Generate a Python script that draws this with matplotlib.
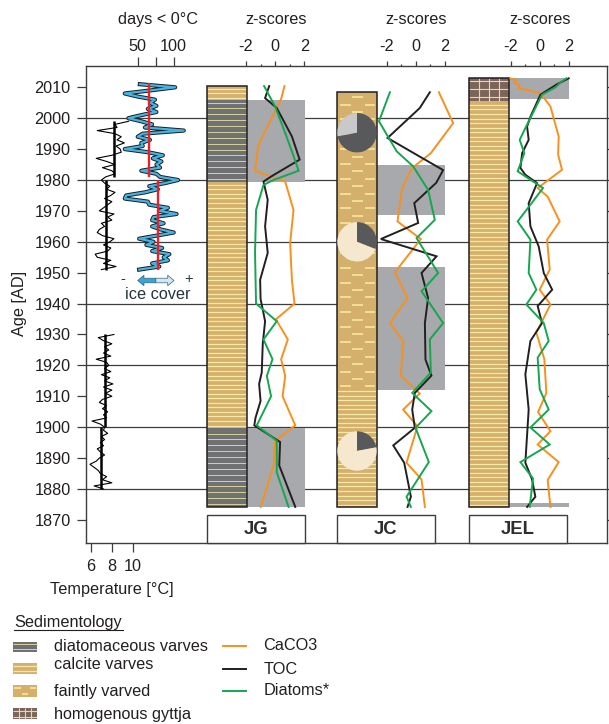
import numpy as np
import matplotlib
matplotlib.use("Agg")
import matplotlib.pyplot as plt
import matplotlib.patheffects as pe
from matplotlib.patches import Rectangle, FancyArrowPatch

plt.rcParams['font.family'] = ['Liberation Sans', 'DejaVu Sans']
plt.rcParams['font.size'] = 11.7
TXT = '#231f20'
FRAME = '#3d3d3d'

# ---------------- data ----------------
temp_years_old = list(range(1880, 1931))
temp_old = [7.2, 6.3, 8.0, 7.1, 7.5, 6.9, 6.7, 6.3, 5.9, 6.5,
            6.8, 7.3, 6.9, 6.6, 7.2, 6.9, 7.3, 7.0, 7.6, 7.2,
            7.3, 6.9, 6.1, 7.5, 7.2, 7.6, 7.1, 7.5, 6.8, 7.1,
            8.0, 7.4, 8.0, 7.2, 8.1, 7.3, 7.8, 7.0, 7.9, 7.3,
            7.7, 7.5, 6.5, 7.9, 7.2, 7.7, 7.3, 8.0, 7.2, 6.7, 8.2]
temp_years_new = list(range(1951, 2000))
temp_new = [7.0, 8.4, 7.2, 7.9, 6.6, 6.4, 7.6, 7.9, 7.2, 7.8,
            8.2, 7.1, 6.6, 6.8, 7.3, 7.0, 8.0, 7.6, 8.2, 6.8,
            7.2, 7.6, 8.0, 7.3, 7.9, 8.3, 7.5, 7.8, 7.3, 7.0,
            7.4, 8.3, 8.0, 7.1, 8.3, 7.5, 6.5, 8.0, 8.9, 8.8,
            8.4, 9.2, 8.5, 8.9, 8.3, 6.6, 8.5, 8.3, 9.6]
tmean_start = [1981, 1951, 1900, 1880]
tmean_end = [1999, 1980, 1930, 1900]
tmean_val = [8.2, 7.41, 7.37, 6.93]

ice_years = list(range(1951, 2012))
ice_days = [52, 80, 70, 92, 86, 94, 70, 84, 62, 72,
            52, 76, 100, 82, 70, 86, 70, 72, 104, 80,
            92, 66, 64, 32, 34, 60, 78, 66, 88, 106,
            81, 76, 55, 81, 76, 83, 71, 85, 64, 32,
            57, 55, 67, 50, 57, 114, 60, 70, 55, 37,
            55, 76, 64, 76, 67, 74, 50, 32, 68, 102, 53]
ice_mean_start = [1981, 1951]
ice_mean_end = [2011.3, 1980]
ice_mean_val = [65.7, 77.8]

grid_years = [1880, 1900, 1920, 1940, 1960, 1980, 2000]
sites = ['JG', 'JC', 'JEL']

# sediment units: (top year, bottom year, type)
jg_units = [(2010.4, 2005.9, 'calcite'), (2005.9, 1979.4, 'diatom'),
            (1979.4, 1899.8, 'calcite'), (1899.8, 1874.2, 'diatom')]
jc_units = [(2008.4, 1912.0, 'faint'), (1912.0, 1874.2, 'calcite')]
jel_units = [(2012.9, 2005.7, 'gyttja'), (2005.7, 1874.2, 'calcite')]
# grey shaded intervals (top, bottom)
jg_boxes = [(2005.9, 1979.5), (1899.8, 1874.2)]
jc_boxes = [(1984.9, 1968.7), (1951.9, 1912.0)]
jel_boxes = [(2012.9, 2006.1), (1875.4, 1874.2)]

# z-scores (year, value)
jg_caco3_y = [2010.4, 2006.2, 1991.4, 1983.0, 1979.5, 1970.3, 1959.6, 1947.7, 1940.0, 1934.9,
              1928.4, 1922.0, 1916.6, 1910.0, 1900.6, 1895.6, 1887.5, 1874.2]
jg_caco3 = [0.64, 0.41, -1.15, -1.38, 0.69, 1.26, 1.03, 1.15, 1.33, 0.05,
            0.87, 0.41, 0.69, 0.51, 1.38, 0.0, -0.11, -0.99]
jg_toc_y = [2010.4, 2006.5, 2003.3, 1994.1, 1986.6, 1981.4, 1979.5, 1973.6, 1965.0, 1956.4,
            1947.7, 1941.5, 1934.3, 1927.0, 1917.7, 1914.0, 1908.5, 1903.0, 1900.6, 1895.2,
            1887.6, 1874.2]
jg_toc = [-0.41, -0.69, 0.11, 1.15, 1.68, -0.18, -0.80, -0.51, -0.69, -0.51,
          -1.03, -1.0, -0.69, -0.85, -0.92, -1.1, -1.0, -1.35, -1.43, 0.34,
          0.28, 1.38]
jg_dia_y = [2010.4, 2003.8, 1995.2, 1988.6, 1983.0, 1980.0, 1978.4, 1970.3, 1956.4, 1940.0,
            1934.3, 1928.4, 1922.0, 1916.6, 1910.0, 1900.6, 1895.6, 1885.4, 1874.2]
jg_dia = [-0.76, 0.0, 0.69, 1.2, 1.61, -0.11, -0.8, -1.31, -1.38, -1.31,
          0.11, -0.8, -0.18, -0.57, -0.28, -1.26, 0.11, 0.11, 0.92]

jc_caco3_y = [2008.4, 1998.4, 1988.7, 1983.9, 1977.4, 1966.6, 1960.9, 1950.1, 1941.8, 1933.7,
              1927.9, 1916.7, 1910.9, 1905.7, 1900.3, 1888.5, 1883.1, 1874.2]
jc_caco3 = [1.58, 2.56, 1.03, -0.25, -0.94, -1.26, 0.34, -1.44, -0.57, -1.78,
            -0.87, -1.03, 0.27, -0.87, 0.11, -0.64, 0.39, 0.62]
jc_toc_y = [2008.4, 2003.3, 1993.6, 1983.2, 1979.1, 1972.5, 1966.1, 1960.9, 1955.3, 1949.9,
            1941.8, 1933.7, 1921.9, 1916.7, 1911.1, 1905.7, 1899.8, 1894.1, 1888.5, 1877.5,
            1874.2]
jc_toc = [0.96, 0.27, -1.94, 1.87, 1.4, -0.11, 0.16, -2.4, 1.42, 0.39,
          0.84, 0.62, 0.66, 1.07, -0.07, -0.25, -0.07, -1.55, -0.8, -0.34,
          -0.57]
jc_dia_y = [2008.4, 1999.0, 1989.3, 1984.4, 1976.8, 1967.1, 1961.2, 1949.9, 1944.0, 1933.7,
            1928.4, 1917.7, 1911.1, 1905.2, 1899.8, 1888.7, 1877.5, 1874.2]
jc_dia = [-1.78, -2.53, -1.32, -0.18, 0.84, 1.3, 0.05, 1.53, 0.39, 1.87,
          0.96, 1.03, -0.25, 1.07, -0.02, 0.89, -0.64, -0.34]

jel_caco3_y = [2012.9, 2012.3, 2011.5, 2010.6, 2009.7, 2009.0, 2008.1, 2003.8, 1994.1, 1988.2,
               1983.3, 1977.4, 1974.6, 1966.6, 1960.7, 1951.0, 1944.5, 1939.7, 1930.6, 1922.0,
               1911.1, 1904.9, 1898.7, 1894.4, 1888.7, 1882.9, 1874.2]
jel_caco3 = [-2.02, -1.6, -1.75, -1.4, -1.45, -0.8, 0.05, 0.74, 1.31, 1.27,
             1.54, -0.14, 0.55, 1.38, 0.51, 0.69, 0.0, 0.74, -0.23, 0.32,
             0.46, -0.11, 0.74, -0.14, 1.31, 0.55, 0.74]
jel_toc_y = [2012.9, 2011.0, 2009.3, 2007.6, 2000.5, 1997.3, 1993.0, 1988.7, 1983.9, 1981.7,
             1979.0, 1972.5, 1965.0, 1958.5, 1949.9, 1944.5, 1939.2, 1933.7, 1927.9, 1917.1,
             1905.7, 1888.5, 1883.1, 1877.5, 1874.2]
jel_toc = [2.0, 1.2, 0.62, 0.05, -0.64, -0.87, -0.76, -1.21, -1.33, -0.99,
           -0.18, -0.76, -0.64, -0.07, 0.28, 0.86, -0.14, 0.16, -0.64, -0.99,
           -0.76, -0.99, -0.53, -0.3, -0.87]
jel_dia_y = [2012.9, 2011.8, 2010.0, 2007.6, 2001.1, 1996.8, 1993.0, 1988.7, 1982.8, 1977.4,
             1972.0, 1966.6, 1960.7, 1949.9, 1944.5, 1939.7, 1933.7, 1927.9, 1922.5, 1912.3,
             1905.7, 1899.9, 1894.4, 1888.7, 1883.4, 1874.2]
jel_dia = [1.84, 1.5, 1.08, 0.16, -0.53, -0.99, -1.38, -1.06, -1.52, 0.23,
           -0.64, -1.52, -0.64, -0.76, -0.23, -0.92, 0.28, 0.62, -0.14, 0.0,
           0.62, -0.64, 0.69, -1.33, -0.46, -0.69]

# JC pie charts: centre year, fraction of first wedge
pie_years = [1995.3, 1960.0, 1892.3]
pie_first = [0.28, 0.31, 0.22]

legend_sed = ['diatomaceous varves', 'calcite varves', 'faintly varved', 'homogenous gyttja']
legend_lines = ['CaCO3', 'TOC', 'Diatoms*']

# ---------------- layout ----------------
W, H, DPI = 609, 724, 100
fig = plt.figure(figsize=(W / DPI, H / DPI), dpi=DPI)
AX_L, AX_R, AX_T, AX_B = 86, 607, 66, 543


def year_at(ypx):
    return 2010 - (ypx - 87.3) / 3.09


Y_TOP, Y_BOT = year_at(AX_T), year_at(AX_B)
RECT = [AX_L / W, 1 - AX_B / H, (AX_R - AX_L) / W, (AX_B - AX_T) / H]
AXH = AX_B - AX_T


def frac_y(ypx):
    return (AX_B - ypx) / AXH


C_ORANGE, C_BLACK, C_GREEN = '#f7901e', '#231f20', '#16a650'
C_TAN, C_DIA, C_GYT = '#d5b06c', '#707173', '#7b655a'
C_BOX = '#a7a9ac'
series_colors = [C_ORANGE, C_BLACK, C_GREEN]


def sediment(ax, x0, x1, a, b, kind, step, z=2.0):
    lo, hi = min(a, b), max(a, b)
    fc = {'diatom': C_DIA, 'calcite': C_TAN, 'faint': C_TAN, 'gyttja': C_GYT}[kind]
    ax.add_patch(Rectangle((x0, lo), x1 - x0, hi - lo, facecolor=fc,
                           edgecolor='none', zorder=z))
    w = x1 - x0
    if kind == 'calcite':
        ys = np.arange(lo + step / 2, hi, step)
        ax.hlines(ys, x0, x1, colors='#f6e9a6', lw=0.9, zorder=z + 0.1)
    elif kind == 'diatom':
        ys = np.arange(lo + step / 2, hi, step)
        ax.hlines(ys, x0, x1, colors='#d8d19b', lw=0.7, zorder=z + 0.1)
    elif kind == 'faint':
        ys = np.arange(lo + step / 2, hi, step)
        ya, yb = ys[0::2], ys[1::2]
        ax.hlines(ya, x0 + 0.07 * w, x0 + 0.34 * w, colors='#f5e394', lw=1.3, zorder=z + 0.1)
        ax.hlines(ya, x0 + 0.70 * w, x0 + 0.95 * w, colors='#f5e394', lw=1.3, zorder=z + 0.1)
        ax.hlines(yb, x0 + 0.38 * w, x0 + 0.65 * w, colors='#f5e394', lw=1.3, zorder=z + 0.1)
    elif kind == 'gyttja':
        ax.vlines([x0 + w * f for f in (0.25, 0.5, 0.75)], lo, hi, colors='#e8d9a0', lw=0.8, zorder=z + 0.1)
        ys = np.arange(lo + step / 2, hi, step)
        ax.hlines(ys, x0, x1, colors='#e8d9a0', lw=0.8, zorder=z + 0.1)


def overlay(px_a, v_a, px_b, v_b, z):
    ax = fig.add_axes(RECT, zorder=z)
    s = (v_b - v_a) / (px_b - px_a)
    ax.set_xlim(v_a + (AX_L - px_a) * s, v_a + (AX_R - px_a) * s)
    ax.set_ylim(Y_BOT, Y_TOP)
    ax.patch.set_alpha(0)
    for sp in ax.spines.values():
        sp.set_visible(False)
    ax.tick_params(left=False, labelleft=False, bottom=False, labelbottom=False)
    ax.set_yticks([])
    return ax, s


# main frame
ax0 = fig.add_axes(RECT, zorder=0)
ax0.set_xlim(0, 1)
ax0.set_ylim(Y_BOT, Y_TOP)
ax0.set_xticks([])
ax0.set_yticks(range(1870, 2011, 10))
ax0.tick_params(axis='y', direction='out', length=6.3, width=0.9, pad=4.7,
                colors=FRAME, labelcolor=TXT, labelsize=11.7, right=True)
for sp in ax0.spines.values():
    sp.set_color(FRAME)
    sp.set_linewidth(1.0)
for gy in grid_years:
    ax0.axhline(gy, color=FRAME, lw=0.9, zorder=0.5)
fig.text(19.5 / W, 1 - 303 / H, 'Age [AD]', rotation=90, ha='center', va='center',
         color=TXT, fontsize=11.7)

# temperature panel
ax_t, _ = overlay(91, 6, 132.7, 10, 1)
ax_t.plot(temp_old, temp_years_old, color='k', lw=0.8, zorder=3)
ax_t.plot(temp_new, temp_years_new, color='k', lw=0.8, zorder=3)
ax_t.vlines(tmean_val, tmean_start, tmean_end, colors='k', lw=1.8, zorder=4)
ax_t.set_xticks([6, 8, 10])
ax_t.set_xticklabels(['6', '8', '10'])
ax_t.tick_params(axis='x', bottom=True, labelbottom=True, direction='out', length=6.5,
                 width=0.9, pad=5.0, colors=FRAME, labelcolor=TXT, labelsize=11.7)
ax_t.text(8.0, frac_y(589.5), 'Temperature [°C]', transform=ax_t.get_xaxis_transform(),
          ha='center', va='center', color=TXT, fontsize=11.7, clip_on=False)

# ice cover panel
ax_d, _ = overlay(137.7, 50, 173.7, 100, 1.1)
ax_d.plot(ice_days, ice_years, color='#45b3e3', lw=1.6, zorder=3, solid_joinstyle='round',
          path_effects=[pe.Stroke(linewidth=3.0, foreground='#1d1d1d'), pe.Normal()])
ax_d.vlines(ice_mean_val, ice_mean_start, ice_mean_end, colors='#e8202a', lw=1.7, zorder=4)
ax_d.xaxis.set_ticks_position('top')
ax_d.set_xticks([50, 75, 100])
ax_d.set_xticklabels(['50', '', '100'])
ax_d.tick_params(axis='x', top=True, labeltop=True, direction='out', length=6.5, width=0.9,
                 pad=1.9, colors=FRAME, labelcolor=TXT, labelsize=11.7)
ax_d.text(78, frac_y(19.3), 'days < 0°C', transform=ax_d.get_xaxis_transform(),
          ha='center', va='center', color=TXT, fontsize=11.7, clip_on=False)
arr_y = year_at(280.5)
for x_end, col in ((50, '#2fa8de'), (100.4, '#cde9f6')):
    ax_d.add_patch(FancyArrowPatch((75.2, arr_y), (x_end, arr_y),
                                   arrowstyle='simple,head_length=0.45,head_width=0.75,tail_width=0.33',
                                   mutation_scale=10, shrinkA=0, shrinkB=0, facecolor=col,
                                   edgecolor='#3b5f74', lw=0.5, zorder=5))
ax_d.text(29, year_at(279.0), '-', ha='center', va='center', color='#24343c', fontsize=10.5, zorder=5)
ax_d.text(120, year_at(279.0), '+', ha='center', va='center', color='#24343c', fontsize=10.5, zorder=5)
ax_d.text(78.5, year_at(294.5), 'ice cover', ha='center', va='center', color='#24343c',
          fontsize=11.7, zorder=5)

# z-score panels
panels = [
    dict(name='JG', ax=(246, 304.3), col=(207.3, 246.7), box=(246.7, 305), lab=(207.3, 305),
         units=jg_units, boxes=jg_boxes,
         series=[(jg_caco3, jg_caco3_y), (jg_toc, jg_toc_y), (jg_dia, jg_dia_y)]),
    dict(name='JC', ax=(386.7, 445), col=(337.3, 376.7), box=(376.7, 445), lab=(337.3, 434.7),
         units=jc_units, boxes=jc_boxes,
         series=[(jc_caco3, jc_caco3_y), (jc_toc, jc_toc_y), (jc_dia, jc_dia_y)]),
    dict(name='JEL', ax=(510.7, 568.7), col=(469.3, 508.7), box=(508.7, 569), lab=(469.3, 566.7),
         units=jel_units, boxes=jel_boxes,
         series=[(jel_caco3, jel_caco3_y), (jel_toc, jel_toc_y), (jel_dia, jel_dia_y)]),
]

steps = {'calcite': 1.47, 'diatom': 1.9, 'faint': 2.4, 'gyttja': 2.6}
axes_z = {}
for i, p in enumerate(panels):
    pa, pb = p['ax']
    ax, s = overlay(pa, -2, pb, 2, 2 + i * 0.1)
    axes_z[p['name']] = ax
    to_z = lambda px, pa=pa, s=s: -2 + (px - pa) * s
    c0, c1 = to_z(p['col'][0]), to_z(p['col'][1])
    b0, b1 = to_z(p['box'][0]), to_z(p['box'][1])
    for top, bot in p['boxes']:
        ax.add_patch(Rectangle((b0, bot), b1 - b0, top - bot, facecolor=C_BOX,
                               edgecolor='none', zorder=1))
    for top, bot, kind in p['units']:
        sediment(ax, c0, c1, top, bot, kind, steps[kind])
    ctop = p['units'][0][0]
    cbot = p['units'][-1][1]
    ax.add_patch(Rectangle((c0, cbot), c1 - c0, ctop - cbot, facecolor='none',
                           edgecolor=TXT, lw=1.1, zorder=2.5))
    for (vals, yrs), colr in zip(p['series'], series_colors):
        ax.plot(vals, yrs, color=colr, lw=1.4, zorder=3, solid_joinstyle='miter')
    ax.xaxis.set_ticks_position('top')
    ax.set_xticks([-2, 0, 2])
    ax.set_xticklabels(['-2', '0', '2'])
    ax.set_xticks([-1, 1], minor=True)
    ax.tick_params(axis='x', which='major', top=True, labeltop=True, direction='out',
                   length=3.4, width=0.9, pad=5.0, colors=FRAME, labelcolor=TXT, labelsize=11.7)
    ax.tick_params(axis='x', which='minor', top=True, direction='out', length=1.7,
                   width=0.9, colors=FRAME)
    ax.text(0.05, frac_y(19.3), 'z-scores', transform=ax.get_xaxis_transform(),
            ha='center', va='center', color=TXT, fontsize=11.7, clip_on=False)
    l0, l1 = to_z(p['lab'][0]), to_z(p['lab'][1])
    ax.add_patch(Rectangle((l0, 0), l1 - l0, frac_y(515), transform=ax.get_xaxis_transform(),
                           facecolor='white', edgecolor=FRAME, lw=1.0, zorder=3, clip_on=False))
    ax.text((l0 + l1) / 2, frac_y(529.5), p['name'], transform=ax.get_xaxis_transform(),
            ha='center', va='center', fontsize=13.3, fontweight='bold', color='#2e2e2e', zorder=4)
    if p['name'] == 'JC':
        zc = (c0 + c1) / 2
        rz = (c1 - c0) / 2
        ry = ((p['col'][1] - p['col'][0]) / 2) / 3.09
        for k, (py, pf) in enumerate(zip(pie_years, pie_first)):
            pax = ax.inset_axes([zc - rz, py - ry, 2 * rz, 2 * ry], transform=ax.transData)
            if k == 0:
                pax.pie([pf, 1 - pf], colors=['#c9c9c9', '#58595b'], startangle=90,
                        counterclock=True, wedgeprops=dict(linewidth=0))
            else:
                pax.pie([pf, 1 - pf], colors=['#58595b', '#f6e8cf'], startangle=90,
                        counterclock=False, wedgeprops=dict(linewidth=0))
            pax.set_xlim(-1, 1)
            pax.set_ylim(-1, 1)
            pax.set_axis_off()

# legend (pixel coordinates)
axl = fig.add_axes([0, 0, 1, 1], zorder=-1)
axl.set_xlim(0, W)
axl.set_ylim(H, 0)
axl.set_axis_off()
axl.text(14, 623, 'Sedimentology', ha='left', va='center', color=TXT, fontsize=11.7)
axl.plot([14, 122.7], [630, 630], color=TXT, lw=0.8)
sed_kinds = ['diatom', 'calcite', 'faint', 'gyttja']
patch_y = [(641.7, 651.7), (663.3, 674.0), (685.0, 696.7), (708.3, 719.3)]
label_y = [646.7, 664.3, 691.7, 715.0]
leg_steps = {'diatom': 5.0, 'calcite': 5.3, 'faint': 5.8, 'gyttja': 5.5}
for kind, (y0, y1), ly, lab in zip(sed_kinds, patch_y, label_y, legend_sed):
    sediment(axl, 12.7, 36.7, y0, y1, kind, leg_steps[kind])
    axl.text(54, ly, lab, ha='left', va='center', color=TXT, fontsize=11.7)
line_y = [646.0, 669.0, 690.7]
for colr, ly, lab in zip(series_colors, line_y, legend_lines):
    axl.plot([222.7, 246], [ly, ly], color=colr, lw=1.4)
    axl.text(263.3, ly, lab, ha='left', va='center', color=TXT, fontsize=11.7)

fig.savefig('out.png', dpi=DPI)
